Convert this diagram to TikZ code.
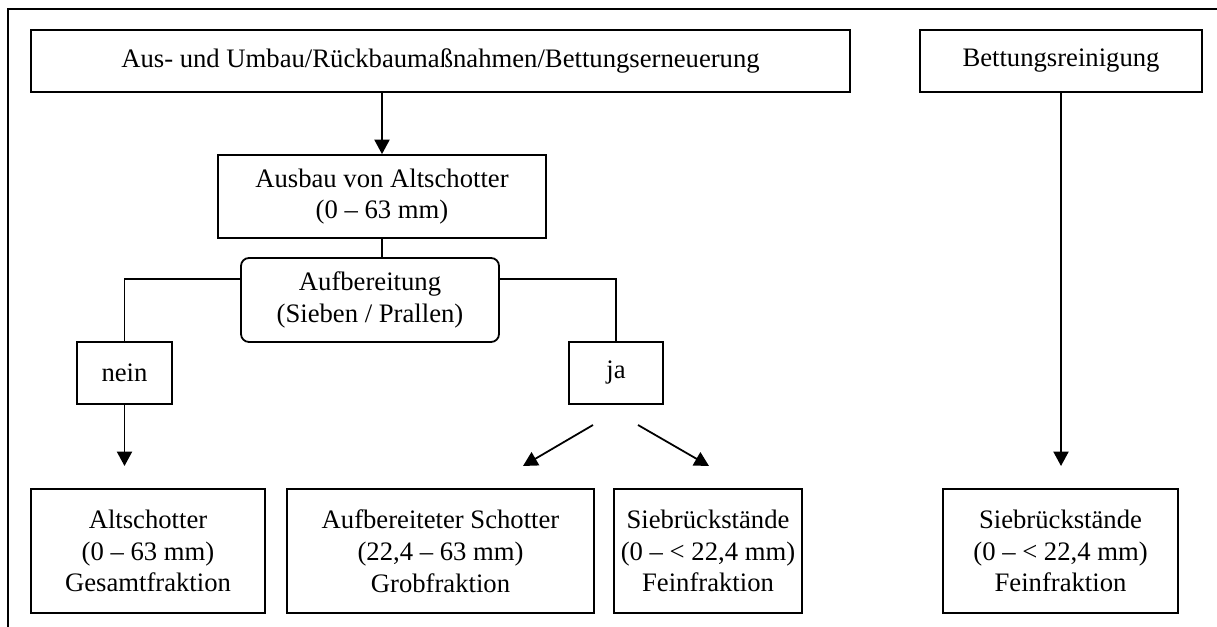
\documentclass[tikz,border=0pt]{standalone}
\usepackage{fontspec}
\setmainfont{Liberation Serif}
\usetikzlibrary{arrows.meta}
\begin{document}
\begin{tikzpicture}[x=0.45pt, y=-0.45pt,
  line width=0.8pt,
  box/.style 2 args={draw, rectangle, inner sep=0pt, align=center,
    minimum width=#1*0.45pt, minimum height=#2*0.45pt,
    font=\fontsize{12}{14.3}\selectfont},
  rbox/.style 2 args={box={#1}{#2}, rounded corners=3.6pt},
  arr/.style={-{Triangle[length=6.5pt, width=6.8pt]}}]
\useasboundingbox (0,0) rectangle (1217,627);
\draw (8,627) -- (8,9) -- (1217,9);

\node[box={819}{62}] (top) at (440.5,61) {Aus- und Umbau/Rückbaumaßnahmen/Bettungserneuerung};
\node[box={282}{62}] (bett) at (1061,61) {Bettungsreinigung};
\node[box={328}{83}] (ausbau) at (382,196.5) {Ausbau von Altschotter\\(0 – 63 mm)};
\node[rbox={258}{84}] (aufb) at (370,300) {Aufbereitung\\(Sieben / Prallen)};
\node[box={95}{62}] (nein) at (124.5,373) {nein};
\node[box={94}{62}] (ja) at (616,373) {ja};
\node[box={234}{124}] (alt) at (148,551) {Altschotter\\(0 – 63 mm)\\Gesamtfraktion};
\node[box={307}{124}] (aufs) at (440.5,551) {Aufbereiteter Schotter\\(22,4 – 63 mm)\\Grobfraktion};
\node[box={188}{124}] (sieb1) at (708,551) {Siebrückstände\\(0 – < 22,4 mm)\\Feinfraktion};
\node[box={235}{124}] (sieb2) at (1060.5,551) {Siebrückstände\\(0 – < 22,4 mm)\\Feinfraktion};

\draw[arr] (ausbau.north |- top.south) -- (ausbau.north);
\draw (ausbau.south) -- (ausbau.south |- aufb.north);
\coordinate (y1) at (0,279);
\draw (aufb.west |- y1) -| (nein.north);
\draw (aufb.east |- y1) -| (ja.north);
\coordinate (neinT) at (124.5,466);
\draw[arr] (nein.south) -- (neinT);
\coordinate (jaL0) at (593,425);
\coordinate (jaL1) at (523,466);
\coordinate (jaR0) at (638,425);
\coordinate (jaR1) at (709,466);
\draw[arr] (jaL0) -- (jaL1);
\draw[arr] (jaR0) -- (jaR1);
\coordinate (bettT) at (1061,466);
\draw[arr] (bett.south) -- (bettT);
\end{tikzpicture}
\end{document}
